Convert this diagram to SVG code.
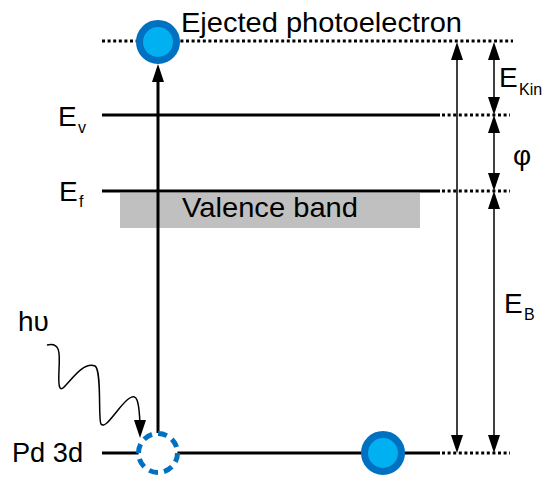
<svg xmlns="http://www.w3.org/2000/svg" width="545" height="477" viewBox="0 0 545 477">
<style>
text{font-family:"Liberation Sans",Arial,sans-serif;fill:#000}
.big{font-size:28px}
.sub{font-size:16px}
.lvl{stroke:#000;stroke-width:3;fill:none}
.dot{stroke:#000;stroke-width:3;stroke-dasharray:3 2.6;fill:none}
.thin{stroke:#000;stroke-width:1.5;fill:none;marker-start:url(#ah);marker-end:url(#ah)}
.e{fill:#00B0F0;stroke:#0070C0;stroke-width:7}
</style>
<defs>
<marker id="ah" viewBox="0 0 18 12" refX="13" refY="6" markerWidth="18" markerHeight="12" markerUnits="userSpaceOnUse" orient="auto-start-reverse">
<path d="M0,0 L18,6 L0,12 z" fill="#000"/>
</marker>
</defs>
<g id="valence-band">
<rect x="120" y="193" width="300" height="35" fill="#C0C0C0"/>
<text class="big" x="182" y="217" textLength="176" lengthAdjust="spacingAndGlyphs">Valence band</text>
</g>
<g id="level-top">
<line class="dot" x1="102" y1="41" x2="513" y2="41"/>
<text class="big" x="181" y="32" textLength="281" lengthAdjust="spacingAndGlyphs">Ejected photoelectron</text>
</g>
<g id="level-ev">
<line class="lvl" x1="102" y1="115" x2="440" y2="115"/>
<line class="dot" x1="442" y1="115" x2="510" y2="115"/>
<text class="big" x="58" y="126">E</text><text class="sub" x="78" y="133">v</text>
</g>
<g id="level-ef">
<line class="lvl" x1="102" y1="191" x2="440" y2="191"/>
<line class="dot" x1="442" y1="191" x2="510" y2="191"/>
<text class="big" x="59" y="201">E</text><text class="sub" x="79" y="207">f</text>
</g>
<g id="level-pd3d">
<line class="lvl" x1="102" y1="453" x2="440" y2="453"/>
<line class="dot" x1="442" y1="453" x2="510" y2="453"/>
<text class="big" x="12" y="462" textLength="71" lengthAdjust="spacingAndGlyphs">Pd 3d</text>
</g>
<g id="connectors">
<line x1="158" y1="433" x2="158" y2="69" stroke="#000" stroke-width="3" marker-end="url(#ah)"/>
<path d="M47,345 C60,342 60,352 59,370 C58,390 60,392 66,385 C75,375 85,362 95,366 C102,370 98,420 101,424 C104,428 110,420 118,410 C126,400 134,392 137,400 C140,408 140,420 140,433" stroke="#000" stroke-width="1.5" fill="none" marker-end="url(#ah)"/>
<line class="thin" x1="457" y1="47" x2="457" y2="448"/>
<line class="thin" x1="494" y1="47" x2="494" y2="110"/>
<line class="thin" x1="494" y1="120" x2="494" y2="186"/>
<line class="thin" x1="494" y1="196" x2="494" y2="448"/>
</g>
<g id="photon-label"><text class="big" x="18" y="331">hυ</text></g>
<g id="ekin-label"><text class="big" x="499" y="87">E</text><text class="sub" x="519" y="95">Kin</text></g>
<g id="phi-label"><text class="big" x="513" y="165">φ</text></g>
<g id="eb-label"><text class="big" x="504" y="313">E</text><text class="sub" x="524" y="320">B</text></g>
<g id="electron-ejected"><circle class="e" cx="158" cy="42" r="18.5"/></g>
<g id="hole"><circle cx="158" cy="453" r="19.5" fill="#fff" stroke="#0070C0" stroke-width="5" pathLength="80" stroke-dasharray="6 4"/></g>
<g id="electron-core"><circle class="e" cx="383" cy="453" r="18.5"/></g>
</svg>
